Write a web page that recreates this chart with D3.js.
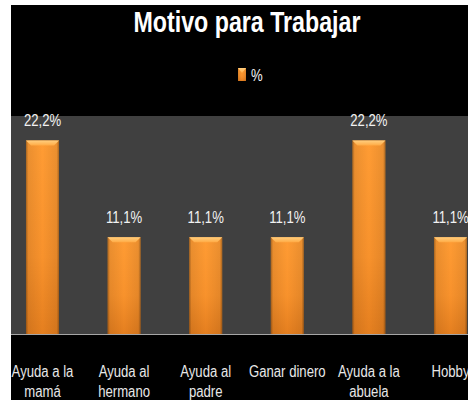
<!DOCTYPE html>
<html>
<head>
<meta charset="utf-8">
<script src="https://cdn.jsdelivr.net/npm/d3@7/dist/d3.min.js"></script>
<style>
  html, body { margin: 0; padding: 0; background: #ffffff; }
  svg { display: block; }
  text { font-family: "Liberation Sans", Arial, sans-serif; }
</style>
</head>
<body>
<svg id="chart" width="468" height="400"></svg>
<script>
// ---- data ----
const categories = ["Ayuda a la\nmamá", "Ayuda al\nhermano", "Ayuda al\npadre", "Ganar dinero", "Ayuda a la\nabuela", "Hobby"];
const values = [22.2, 11.1, 11.1, 11.1, 22.2, 11.1];
const seriesName = "%";
const chartTitle = "Motivo para Trabajar";
const yDomain = [0, 25];

// ---- layout ----
const W = 468, H = 400;
const svg = d3.select("#chart");
const plot = { left: 11, top: 116, right: 468, bottom: 334 };
const NARROW = 0.82;

function narrow(sel, factor) {
  sel.each(function () {
    const w = this.getComputedTextLength();
    d3.select(this).attr("textLength", w * (factor || NARROW)).attr("lengthAdjust", "spacingAndGlyphs");
  });
}

const fmt = d3.formatLocale({ decimal: ",", thousands: ".", grouping: [3], currency: ["", ""] }).format(".1f");

// defs
const defs = svg.append("defs");
const gV = defs.append("linearGradient").attr("id", "barV").attr("x1", 0).attr("y1", 0).attr("x2", 0).attr("y2", 1);
gV.append("stop").attr("offset", "0%").attr("stop-color", "#ff9c34");
gV.append("stop").attr("offset", "60%").attr("stop-color", "#f8922c");
gV.append("stop").attr("offset", "100%").attr("stop-color", "#e57f1f");
const gH = defs.append("linearGradient").attr("id", "barH").attr("x1", 0).attr("y1", 0).attr("x2", 1).attr("y2", 0);
gH.append("stop").attr("offset", "0%").attr("stop-color", "#000").attr("stop-opacity", 0.35);
gH.append("stop").attr("offset", "7%").attr("stop-color", "#000").attr("stop-opacity", 0.08);
gH.append("stop").attr("offset", "50%").attr("stop-color", "#000").attr("stop-opacity", 0);
gH.append("stop").attr("offset", "93%").attr("stop-color", "#000").attr("stop-opacity", 0.08);
gH.append("stop").attr("offset", "100%").attr("stop-color", "#000").attr("stop-opacity", 0.35);
const gT = defs.append("linearGradient").attr("id", "bevel").attr("x1", 0).attr("y1", 0).attr("x2", 0).attr("y2", 1);
gT.append("stop").attr("offset", "0%").attr("stop-color", "#ffcf80");
gT.append("stop").attr("offset", "100%").attr("stop-color", "#ffab45");

// background: white frame + black chart area
svg.append("rect").attr("width", W).attr("height", H).attr("fill", "#ffffff");
svg.append("rect").attr("x", 11).attr("y", 5).attr("width", W - 11).attr("height", H - 5).attr("fill", "#000000");

// plot area
svg.append("rect")
  .attr("x", plot.left).attr("y", plot.top)
  .attr("width", plot.right - plot.left).attr("height", plot.bottom - plot.top)
  .attr("fill", "#404040");

// scales
const x = d3.scaleBand().domain(categories).range([1.7, 491.3]).paddingInner(0.595).paddingOuter(0.2975);
const y = d3.scaleLinear().domain(yDomain).range([plot.bottom, plot.top]);

// bars
const data = categories.map((c, i) => ({ c, v: values[i] }));
const bars = svg.append("g").selectAll("g").data(data).join("g");
bars.append("rect")
  .attr("x", d => x(d.c)).attr("y", d => y(d.v))
  .attr("width", x.bandwidth()).attr("height", d => y(0) - y(d.v))
  .attr("fill", "url(#barV)");
bars.append("rect")
  .attr("x", d => x(d.c)).attr("y", d => y(d.v))
  .attr("width", x.bandwidth()).attr("height", d => y(0) - y(d.v))
  .attr("fill", "url(#barH)");
bars.append("path")
  .attr("d", d => {
    const x0 = x(d.c), x1 = x0 + x.bandwidth(), t = y(d.v), b = 5;
    return `M${x0},${t}L${x1},${t}L${x1 - b},${t + b}L${x0 + b},${t + b}Z`;
  })
  .attr("fill", "url(#bevel)");

// value labels
const vl = svg.append("g").selectAll("text").data(data).join("text")
  .attr("x", d => x(d.c) + x.bandwidth() / 2)
  .attr("y", d => y(d.v) - 14)
  .attr("text-anchor", "middle")
  .attr("font-size", 16)
  .attr("fill", "#f2f2f2")
  .text(d => fmt(d.v) + "%");
narrow(vl);

// x axis
const axis = svg.append("g").attr("transform", `translate(0,${plot.bottom})`)
  .call(d3.axisBottom(x).tickSize(0).tickPadding(0));
axis.attr("font-family", null);
axis.select(".domain").attr("stroke", "#a6a6a6").attr("d", `M${plot.left},0.5H${plot.right}`);
axis.selectAll(".tick text").each(function (d) {
  const t = d3.select(this);
  t.text(null).attr("y", 0).attr("dy", null)
    .attr("font-size", 16).attr("fill", "#e8e8e8");
  d.split("\n").forEach((line, i) => {
    t.append("tspan").attr("x", 0).attr("y", 43 + i * 20).text(line);
  });
});
narrow(axis.selectAll(".tick text tspan"));

// title
const title = svg.append("text")
  .attr("x", 247).attr("y", 32)
  .attr("text-anchor", "middle")
  .attr("font-size", 30).attr("font-weight", "bold")
  .attr("fill", "#ffffff")
  .text(chartTitle);
title.attr("textLength", 227).attr("lengthAdjust", "spacingAndGlyphs");

// legend
const lg = svg.append("g").attr("transform", "translate(238,68)");
lg.append("rect").attr("width", 8).attr("height", 13).attr("fill", "url(#barV)");
lg.append("rect").attr("width", 8).attr("height", 13).attr("fill", "url(#barH)");
lg.append("path").attr("d", "M0,0L8,0L4,5Z").attr("fill", "url(#bevel)");
const lt = lg.append("text").attr("x", 13).attr("y", 12.5).attr("font-size", 16).attr("fill", "#f2f2f2").text(seriesName);
narrow(lt);
</script>
</body>
</html>
